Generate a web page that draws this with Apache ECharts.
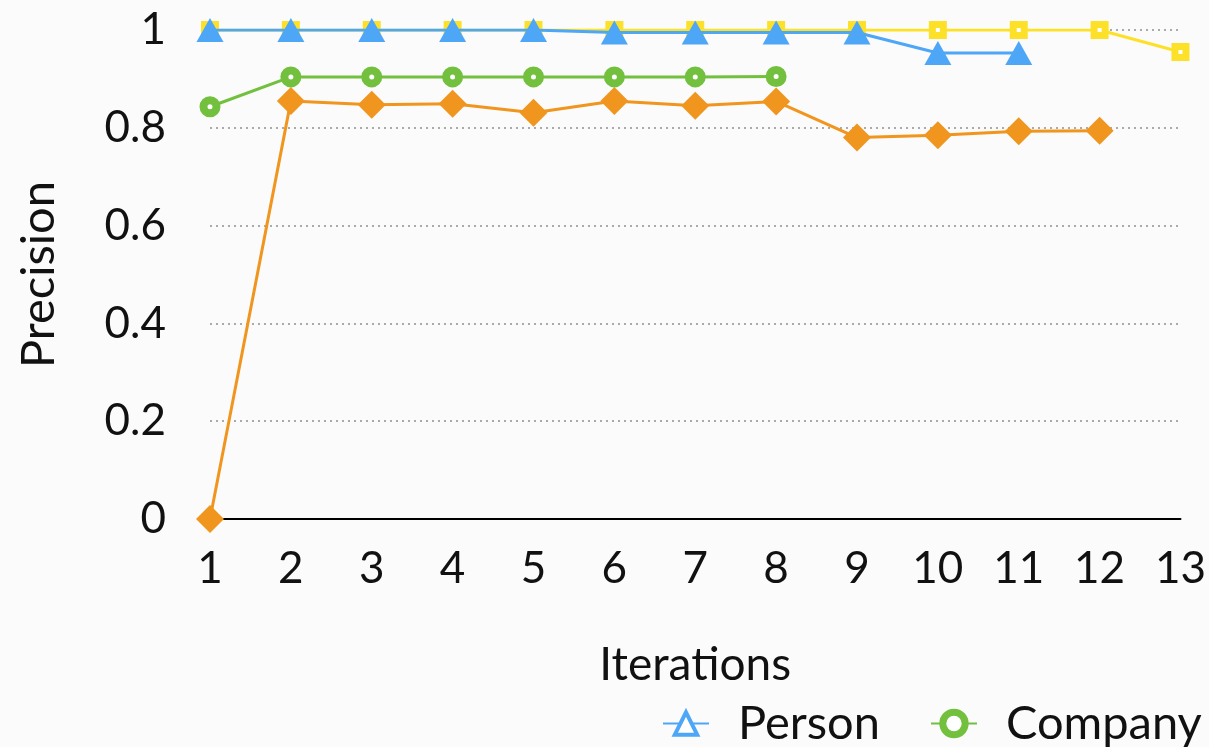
<!DOCTYPE html>
<html>
<head>
<meta charset="utf-8">
<script src="https://cdn.jsdelivr.net/npm/echarts@6/dist/echarts.min.js"></script>
<style>
html,body{margin:0;padding:0;background:#fbfbfb;}
#c{width:1209px;height:747px;}
</style>
</head>
<body>
<div id="c"></div>
<script>
const iterations = ['1','2','3','4','5','6','7','8','9','10','11','12','13'];
const personVals   = [1, 1, 1, 1, 1, 0.995, 0.995, 0.995, 0.995, 0.953, 0.953, null, null];
const companyVals  = [0.843, 0.904, 0.904, 0.904, 0.904, 0.904, 0.904, 0.905, null, null, null, null, null];
const locationVals = [1, 1, 1, 1, 1, 1, 1, 1, 1, 1, 1, 1, 0.955];
const productVals  = [0, 0.855, 0.847, 0.849, 0.831, 0.855, 0.845, 0.854, 0.780, 0.785, 0.793, 0.794, null];
const yTicks = [0, 0.2, 0.4, 0.6, 0.8, 1];

const FONT = 'Lato';
const chart = echarts.init(document.getElementById('c'), null, {renderer:'canvas'});
chart.setOption({
  backgroundColor: '#fbfbfb',
  animation: false,
  textStyle: {fontFamily: FONT},
  grid: {left: 210, right: 27, top: 30, bottom: 228, containLabel: false},
  legend: {
    left: 657, top: 695, width: 4000,
    itemWidth: 46, itemHeight: 28, itemGap: 50,
    textStyle: {fontFamily: FONT, fontSize: 47, color: '#111', padding: [0,0,0,24]},
    data: [
      {name: 'Person', itemStyle: {color: '#fff', borderColor: '#4ea6f7', borderWidth: 4}},
      {name: 'Company', itemStyle: {color: '#fff', borderColor: '#72c03e', borderWidth: 7}},
      {name: 'Location', itemStyle: {color: '#fff', borderColor: '#fde128', borderWidth: 7}},
      {name: 'Product'}
    ]
  },
  xAxis: {
    type: 'category', data: iterations, boundaryGap: false,
    name: 'Iterations', nameLocation: 'middle', nameGap: 123,
    nameTextStyle: {fontFamily: FONT, fontSize: 46, color: '#111'},
    axisLine: {lineStyle: {color: '#000', width: 2}},
    axisTick: {show: false},
    axisLabel: {fontFamily: FONT, fontSize: 44, color: '#111', margin: 28},
    splitLine: {show: false}
  },
  yAxis: {
    type: 'value', min: 0, max: 1, interval: 0.2,
    name: 'Precision', nameLocation: 'middle', nameGap: 148,
    nameTextStyle: {fontFamily: FONT, fontSize: 47, color: '#111'},
    axisLine: {show: false}, axisTick: {show: false},
    axisLabel: {fontFamily: FONT, fontSize: 44, color: '#111', margin: 44,
      formatter: v => { const t = yTicks.find(x => Math.abs(x - v) < 1e-6); return t === undefined ? '' : String(t); }},
    splitLine: {show: true, lineStyle: {color: '#aaa', width: 2, type: [2, 4]}}
  },
  series: [
    {name: 'Person', type: 'line', data: personVals, z: 5,
     symbol: 'triangle', symbolSize: [27, 24],
     itemStyle: {color: '#4ea6f7'}, lineStyle: {color: '#4ea6f7', width: 3}},
    {name: 'Company', type: 'line', data: companyVals, z: 4,
     symbol: 'circle', symbolSize: 13,
     itemStyle: {color: '#ffffff', borderColor: '#72c03e', borderWidth: 8},
     lineStyle: {color: '#72c03e', width: 3}},
    {name: 'Location', type: 'line', data: locationVals, z: 2,
     symbol: 'rect', symbolSize: 11,
     itemStyle: {color: '#ffffff', borderColor: '#fde128', borderWidth: 7},
     lineStyle: {color: '#fde128', width: 3}},
    {name: 'Product', type: 'line', data: productVals, z: 3,
     symbol: 'diamond', symbolSize: 28,
     itemStyle: {color: '#f0951e'}, lineStyle: {color: '#f0951e', width: 3}}
  ]
});
</script>
</body>
</html>
